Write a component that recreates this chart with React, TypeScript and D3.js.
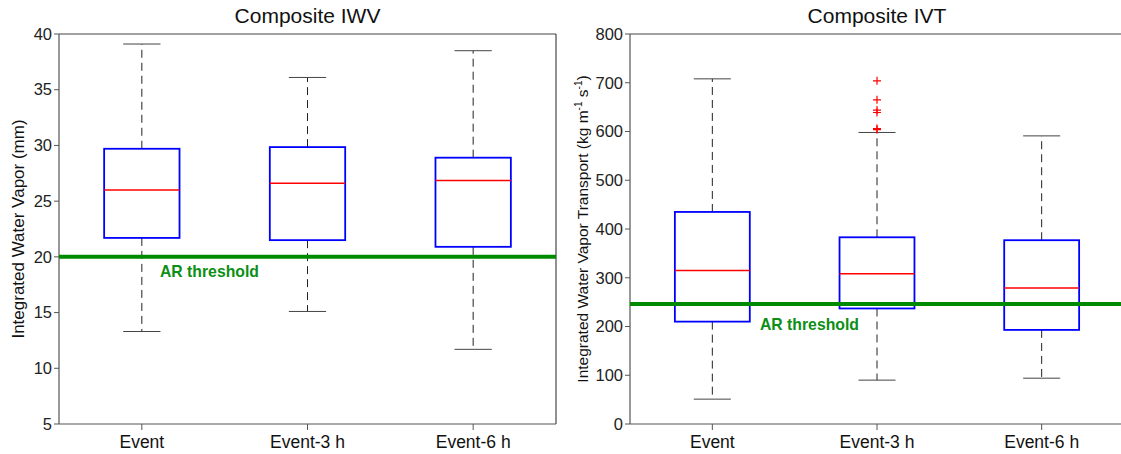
import * as d3 from 'd3';
import React from 'react';

// categories on the x axis (same for both panels)
const categories = ['Event', 'Event-3 h', 'Event-6 h'];

// Composite IWV (mm) box stats
const iwvLow = [13.3, 15.1, 11.7];
const iwvQ1 = [21.7, 21.5, 20.9];
const iwvMedian = [26.0, 26.6, 26.85];
const iwvQ3 = [29.7, 29.85, 28.9];
const iwvHigh = [39.1, 36.1, 38.5];
const iwvOutliers = [[], [], []];
const iwvTicks = [5, 10, 15, 20, 25, 30, 35, 40];
const iwvThreshold = 20;

// Composite IVT (kg m-1 s-1) box stats
const ivtLow = [51, 90, 94];
const ivtQ1 = [210, 237, 193];
const ivtMedian = [315, 308, 279];
const ivtQ3 = [435, 383, 377];
const ivtHigh = [708, 598, 591];
const ivtOutliers = [[], [704, 665, 644, 639, 606, 604], []];
const ivtTicks = [0, 100, 200, 300, 400, 500, 600, 700, 800];
const ivtThreshold = 246;

const FONT = '"Liberation Sans", Arial, Helvetica, sans-serif';

const params = {
    top: 34,
    bottom: 424,
    boxFrac: 0.455,
    capFrac: 0.225,
};

function Panel(props) {
    const { x0, x1, domain, ticks, low, q1, median, q3, high, outliers, threshold, title, ylabel, ylabelX, ylabelSize, thrLabelX, thrLabelY, tickSize } = props;
    const x = d3.scaleBand().domain(categories).range([x0, x1]);
    const y = d3.scaleLinear().domain(domain).range([params.bottom, params.top]);
    const bw = x.bandwidth();
    const boxW = bw * params.boxFrac;
    const capW = bw * params.capFrac;
    const axisGrey = '#555';

    return (
        <g fontFamily={FONT}>
            <text x={(x0 + x1) / 2} y={23} textAnchor="middle" fontSize={21} fill="#111">{title}</text>
            {/* frame */}
            <line x1={x0} x2={x1} y1={params.top} y2={params.top} stroke="#444" strokeWidth={1} />
            <line x1={x1} x2={x1} y1={params.top} y2={params.bottom} stroke="#222" strokeWidth={1} />
            <line x1={x0} x2={x1} y1={params.bottom} y2={params.bottom} stroke={axisGrey} strokeWidth={1.2} />
            <line x1={x0} x2={x0} y1={params.top} y2={params.bottom} stroke={axisGrey} strokeWidth={1.2} />
            {ticks.map(t => (
                <g key={t} transform={`translate(${x0},${y(t)})`}>
                    <line x1={-5} x2={0} stroke={axisGrey} />
                    <text x={-7} dy="0.35em" textAnchor="end" fontSize={tickSize} fill="#222">{t}</text>
                </g>
            ))}
            {categories.map(c => (
                <g key={c} transform={`translate(${x(c) + bw / 2},${params.bottom})`}>
                    <line y1={0} y2={6} stroke={axisGrey} />
                    <text y={24} textAnchor="middle" fontSize={17.5} fill="#111">{c}</text>
                </g>
            ))}
            <text transform={`translate(${ylabelX},${(params.top + params.bottom) / 2}) rotate(-90)`} textAnchor="middle" fontSize={ylabelSize} fill="#111">{ylabel}</text>

            {categories.map((c, i) => {
                const cx = x(c) + bw / 2;
                return (
                    <g key={c}>
                        <line x1={cx} x2={cx} y1={y(q3[i])} y2={y(high[i])} stroke="#222" strokeWidth={1} strokeDasharray="8,5" />
                        <line x1={cx} x2={cx} y1={y(q1[i])} y2={y(low[i])} stroke="#222" strokeWidth={1} strokeDasharray="8,5" />
                        <line x1={cx - capW / 2} x2={cx + capW / 2} y1={y(high[i])} y2={y(high[i])} stroke="#444" strokeWidth={1} />
                        <line x1={cx - capW / 2} x2={cx + capW / 2} y1={y(low[i])} y2={y(low[i])} stroke="#444" strokeWidth={1} />
                        <rect x={cx - boxW / 2} y={y(q3[i])} width={boxW} height={y(q1[i]) - y(q3[i])} fill="none" stroke="#0000ff" strokeWidth={1.8} />
                        <line x1={cx - boxW / 2} x2={cx + boxW / 2} y1={y(median[i])} y2={y(median[i])} stroke="#ff0000" strokeWidth={1.5} />
                        {outliers[i].map((o, k) => (
                            <path key={k} d={`M${cx - 4},${y(o)}h8M${cx},${y(o) - 4}v8`} stroke="#ff0000" strokeWidth={1.2} />
                        ))}
                    </g>
                );
            })}
            <line x1={x0} x2={x1} y1={y(threshold)} y2={y(threshold)} stroke="#008a00" strokeWidth={4} />
            <text x={thrLabelX} y={thrLabelY} fontSize={15.75} fontWeight="bold" fill="#0b8f14">AR threshold</text>
        </g>
    );
}

export default function App() {
    return (
        <svg width={1121} height={454} style={{ position: 'absolute', left: 0, top: 0, background: '#fff' }}>
            <Panel
                x0={59} x1={556} domain={[5, 40]} ticks={iwvTicks}
                low={iwvLow} q1={iwvQ1} median={iwvMedian} q3={iwvQ3} high={iwvHigh} outliers={iwvOutliers}
                threshold={iwvThreshold} title="Composite IWV" ylabel="Integrated Water Vapor (mm)"
                ylabelX={24} ylabelSize={17} thrLabelX={160} thrLabelY={277} tickSize={16.5}
            />
            <Panel
                x0={630} x1={1124} domain={[0, 800]} ticks={ivtTicks}
                low={ivtLow} q1={ivtQ1} median={ivtMedian} q3={ivtQ3} high={ivtHigh} outliers={ivtOutliers}
                threshold={ivtThreshold} title="Composite IVT"
                ylabel={<>Integrated Water Vapor Transport (kg m<tspan dy="-6" fontSize={10}>-1</tspan><tspan dy="6"> s</tspan><tspan dy="-6" fontSize={10}>-1</tspan><tspan dy="6">)</tspan></>}
                ylabelX={588} ylabelSize={15.5} thrLabelX={760} thrLabelY={330} tickSize={16.5}
            />
        </svg>
    );
}
